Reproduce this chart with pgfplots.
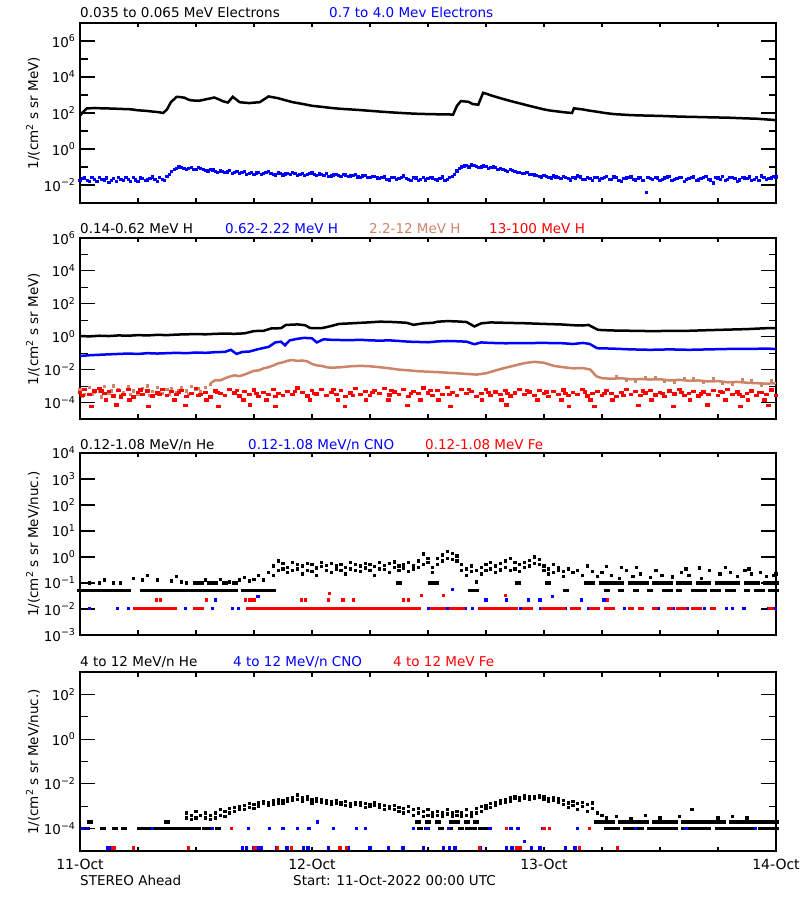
\documentclass[border=0pt]{standalone}
\usepackage{fontspec}
\setmainfont{DejaVu Sans}
\usepackage{pgfplots}
\pgfplotsset{compat=1.18}
\definecolor{hbrown}{RGB}{205,133,105}
\newcommand\tf{\fontsize{13.5}{16}\selectfont}
\newcommand\sx[1]{10\textsuperscript{#1}}
\pgfplotsset{
  mypanel/.style={scale only axis, width=696pt, xmin=0, xmax=72,
    axis line style={line width=1.3pt},
    xtick={0,6,...,72}, xticklabels={},
    tick pos=both, tick align=inside,
    major tick length=15pt, minor tick length=7.5pt,
    xtick style={/pgfplots/major tick length=4.5pt},
    every tick/.append style={black, line width=1.1pt},
    yticklabel style={font=\tf, xshift=-1pt},
    xticklabel style={font=\fontsize{14}{16}\selectfont, yshift=-5pt},
  },
  mydots/.style={only marks, mark=square*, mark size=1.15pt, mark options={line width=0pt}},
  mywide/.style={only marks, mark=square*, mark size=1.15pt, mark options={line width=0pt, xscale=1.6}},
  mydsh/.style={only marks, mark=square*, mark size=1.15pt, mark options={line width=0pt, xscale=2.2}},
  myln/.style={line width=2.5pt, mark=none},
}
\begin{document}
\begin{tikzpicture}
\useasboundingbox (0,0) rectangle (800pt,900pt);
\fill[white] (0,0) rectangle (800pt,900pt);
% ---------------- Panel 1
\begin{axis}[ymode=log, mypanel, at={(80pt,697pt)}, anchor=south west, height=180pt, ymin=1e-3, ymax=1e7,
  ytick={1e-2,1,1e2,1e4,1e6}, yticklabels={\sx{−2},\sx{0},\sx{2},\sx{4},\sx{6}},
  minor ytick={1e-1,1e1,1e3,1e5}]
\addplot[myln, black] coordinates {(0,71) (0.3,112) (0.7,178) (1.5,190) (2.2,182) (3,178) (3.8,172) (4.5,166) (5.3,160) (6,141) (6.8,132) (7.5,120) (8.1,112) (8.6,100) (9.0,158) (9.4,398) (10,794) (10.4,760) (10.8,708) (11.2,560) (11.5,501) (12.3,479) (12.8,540) (13.2,603) (13.9,724) (14.4,560) (14.8,447) (15.3,380) (15.8,794) (16.1,600) (16.5,398) (17.5,355) (18.1,380) (18.6,398) (19.5,832) (20.5,661) (21.2,520) (22,398) (23,320) (24,251) (25,220) (26,190) (27,170) (28,158) (29,145) (30,132) (31,120) (32,110) (33,102) (34,95) (35,90) (36,87) (37.3,84) (38.6,82) (39.0,251) (39.4,457) (40.2,417) (40.6,316) (41.2,288) (41.7,1318) (42.1,1150) (42.5,955) (43.5,661) (44.2,520) (45,398) (45.8,310) (46.6,240) (47.3,195) (48,158) (48.7,135) (49.5,120) (50.2,108) (50.9,100) (51.1,182) (52,158) (52.7,135) (53.5,117) (54.3,100) (55.2,87) (56,82) (57,76) (58.5,72) (60,69) (62,63) (63.8,60) (65.5,57) (67,55) (68.5,51) (70,48) (71,44) (72,40)};
\addplot[mydots, blue] coordinates {(0,0.018) (0.5,0.024) (1,0.016) (1.5,0.021) (2,0.027) (2.5,0.019) (3,0.014) (3.5,0.022) (4,0.025) (4.5,0.017) (5,0.020) (5.5,0.026) (6,0.015) (6.5,0.023) (7,0.019) (7.5,0.028) (8,0.016) (8.5,0.021) (9,0.03) (9.5,0.055) (10,0.08) (10.5,0.09) (11,0.075) (11.5,0.095) (12,0.07) (12.5,0.085) (13,0.065) (13.5,0.075) (14,0.055) (14.5,0.06) (15,0.048) (15.5,0.062) (16,0.05) (16.5,0.042) (17,0.055) (17.5,0.045) (18,0.038) (18.5,0.05) (19,0.043) (19.5,0.058) (20,0.04) (20.5,0.047) (21,0.036) (21.5,0.045) (22,0.05) (22.5,0.035) (23,0.042) (23.5,0.038) (24,0.046) (24.5,0.033) (25,0.04) (25.5,0.044) (26,0.032) (26.5,0.038) (27,0.029) (27.5,0.036) (28,0.031) (28.5,0.04) (29,0.027) (29.5,0.034) (30,0.025) (30.5,0.03) (31,0.022) (31.5,0.028) (32,0.019) (32.5,0.026) (33,0.023) (33.5,0.031) (34,0.02) (34.5,0.025) (35,0.017) (35.5,0.027) (36,0.022) (36.5,0.024) (37,0.019) (37.5,0.028) (38,0.021) (38.5,0.03) (39,0.06) (39.5,0.1) (40,0.12) (40.5,0.13) (41,0.11) (41.5,0.1) (42,0.105) (42.5,0.09) (43,0.095) (43.5,0.08) (44,0.065) (44.5,0.07) (45,0.055) (45.5,0.05) (46,0.045) (46.5,0.04) (47,0.036) (47.5,0.03) (48,0.034) (48.5,0.027) (49,0.031) (49.5,0.025) (50,0.029) (50.5,0.022) (51,0.026) (51.5,0.032) (52,0.021) (52.5,0.025) (53,0.018) (53.5,0.027) (54,0.023) (54.5,0.03) (55,0.02) (55.5,0.026) (56,0.016) (56.5,0.024) (57,0.028) (57.5,0.019) (58,0.025) (58.6,0.0038) (59,0.022) (59.5,0.027) (60,0.018) (60.5,0.024) (61,0.03) (61.5,0.02) (62,0.025) (62.5,0.015) (63,0.023) (63.5,0.028) (64,0.019) (64.5,0.026) (65,0.021) (65.5,0.013) (66,0.024) (66.5,0.029) (67,0.02) (67.5,0.025) (68,0.016) (68.5,0.027) (69,0.022) (69.5,0.018) (70,0.026) (70.5,0.031) (71,0.02) (71.5,0.024) (72,0.028)
(0.25,0.022) (0.75,0.017) (1.25,0.025) (1.75,0.015) (2.25,0.021) (2.75,0.024) (3.25,0.018) (3.75,0.016) (4.25,0.02) (4.75,0.026) (5.25,0.015) (5.75,0.019) (6.25,0.024) (6.75,0.017) (7.25,0.022) (7.75,0.02) (8.25,0.025) (8.75,0.018) (9.25,0.04) (9.75,0.07) (10.25,0.1) (10.75,0.08) (11.25,0.085) (11.75,0.07) (12.25,0.09) (12.75,0.075) (13.25,0.06) (13.75,0.068) (14.25,0.05) (14.75,0.058) (15.25,0.053) (15.75,0.045) (16.25,0.055) (16.75,0.048) (17.25,0.04) (17.75,0.05) (18.25,0.046) (18.75,0.039) (19.25,0.048) (19.75,0.042) (20.25,0.036) (20.75,0.044) (21.25,0.041) (21.75,0.037) (22.25,0.043) (22.75,0.039) (23.25,0.033) (23.75,0.042) (24.25,0.037) (24.75,0.041) (25.25,0.035) (25.75,0.03) (26.25,0.036) (26.75,0.033) (27.25,0.039) (27.75,0.03) (28.25,0.034) (28.75,0.028) (29.25,0.032) (29.75,0.026) (30.25,0.029) (30.75,0.024) (31.25,0.027) (31.75,0.021) (32.25,0.025) (32.75,0.02) (33.25,0.027) (33.75,0.022) (34.25,0.018) (34.75,0.024) (35.25,0.021) (35.75,0.019) (36.25,0.026) (36.75,0.02) (37.25,0.023) (37.75,0.018) (38.25,0.025) (38.75,0.04) (39.25,0.08) (39.75,0.115) (40.25,0.1) (40.75,0.12) (41.25,0.095) (41.75,0.115) (42.25,0.085) (42.75,0.1) (43.25,0.075) (43.75,0.07) (44.25,0.058) (44.75,0.062) (45.25,0.05) (45.75,0.042) (46.25,0.048) (46.75,0.037) (47.25,0.033) (47.75,0.028) (48.25,0.03) (48.75,0.024) (49.25,0.028) (49.75,0.022) (50.25,0.026) (50.75,0.019) (51.25,0.024) (51.75,0.028) (52.25,0.02) (52.75,0.023) (53.25,0.026) (53.75,0.019) (54.25,0.025) (54.75,0.021) (55.25,0.028) (55.75,0.018) (56.25,0.022) (56.75,0.026) (57.25,0.021) (57.75,0.024) (58.25,0.017) (58.75,0.027) (59.25,0.02) (59.75,0.024) (60.25,0.021) (60.75,0.028) (61.25,0.017) (61.75,0.023) (62.25,0.027) (62.75,0.02) (63.25,0.025) (63.75,0.018) (64.25,0.022) (64.75,0.029) (65.25,0.019) (65.75,0.025) (66.25,0.021) (66.75,0.017) (67.25,0.026) (67.75,0.022) (68.25,0.019) (68.75,0.024) (69.25,0.028) (69.75,0.021) (70.25,0.017) (70.75,0.025) (71.25,0.022) (71.75,0.03)};
\end{axis}
% ---------------- Panel 2
\begin{axis}[ymode=log, mypanel, at={(80pt,481pt)}, anchor=south west, height=181pt, ymin=1e-5, ymax=1e6,
  ytick={1e-4,1e-2,1,1e2,1e4,1e6}, yticklabels={\sx{−4},\sx{−2},\sx{0},\sx{2},\sx{4},\sx{6}},
  minor ytick={1e-3,1e-1,1e1,1e3,1e5}]
\addplot[myln, black] coordinates {(0,1.1) (1,1.05) (2,1.15) (3,1.1) (4,1.2) (5,1.15) (6,1.25) (7,1.2) (8,1.3) (9,1.25) (10,1.35) (11,1.4) (12,1.45) (13,1.4) (14,1.5) (15,1.55) (16,1.5) (17,1.6) (18,2.2) (19,2.3) (19.8,3.2) (20.8,3.3) (21.3,5.2) (22.5,5.6) (23.3,5.0) (23.8,3.4) (25,3.3) (26,4.5) (26.8,6.0) (28,6.5) (29,7.0) (30,7.5) (31,8.2) (32,8.0) (33,7.5) (33.8,7.0) (34.5,5.3) (35.5,6.5) (36.5,7.0) (37,8.2) (38,8.9) (39,8.5) (40,7.8) (40.8,4.2) (41.5,6.5) (42.5,7.4) (44,7.0) (46,6.6) (48,6.0) (50,5.5) (51,5.0) (52,4.8) (52.6,5.2) (53.6,2.6) (55,2.4) (57,2.3) (59,2.2) (61,2.25) (63,2.3) (65,2.5) (67,2.7) (69,2.9) (71,3.3) (72,3.4)};
\addplot[myln, blue] coordinates {(0,0.068) (1,0.075) (2,0.08) (3,0.085) (4,0.09) (5,0.095) (6,0.09) (7,0.1) (8,0.095) (9,0.1) (10,0.105) (11,0.1) (12,0.11) (13,0.105) (14,0.115) (15,0.12) (15.6,0.16) (16.2,0.09) (16.8,0.12) (17.5,0.125) (18.5,0.18) (19.5,0.24) (20.2,0.45) (20.8,0.5) (21.2,0.3) (21.7,0.6) (22.5,0.75) (23.2,0.85) (24,0.8) (24.5,0.45) (25.2,0.7) (26,0.65) (27,0.63) (28,0.62) (29,0.65) (30,0.6) (31,0.58) (32,0.6) (33,0.55) (34,0.5) (35,0.48) (36,0.46) (37,0.52) (38,0.55) (39,0.53) (40,0.5) (40.8,0.35) (41.5,0.45) (42.5,0.42) (44,0.4) (46,0.41) (48,0.42) (50,0.4) (51,0.36) (52,0.42) (52.7,0.37) (53.5,0.2) (55,0.19) (57,0.17) (59,0.16) (61,0.17) (63,0.16) (65,0.17) (67,0.18) (69,0.18) (71,0.19) (72,0.18)};
\addplot[mydots, hbrown] coordinates {(0,6e-4) (0.5,3e-4) (1,8e-4) (1.5,4e-4) (2,5e-4) (2.5,9e-4) (3,3.5e-4) (3.5,1e-3) (4,6e-4) (4.5,4e-4) (5,9e-4) (5.5,5e-4) (6,3e-4) (6.5,7e-4) (7,1e-3) (7.5,4.5e-4) (8,8e-4) (8.5,3.5e-4) (9,6e-4) (9.5,7e-4) (10,4e-4) (10.5,8e-4) (11,5e-4) (11.5,9e-4) (12,6e-4) (12.5,4.5e-4) (13,8e-4) (13.5,1.2e-3) (0.25,2.5e-4) (1.25,3e-4) (2.25,2.2e-4) (3.25,5e-4) (4.25,2.8e-4) (5.25,3.2e-4) (6.25,5.5e-4) (7.25,2.6e-4) (8.25,4e-4) (9.25,3e-4) (10.25,5.5e-4) (11.25,3e-4) (12.25,7e-4) (55.5,3.6e-3) (56.5,2.2e-3) (57.5,2e-3) (58.5,3.1e-3) (59.5,3.3e-3) (60.5,1.9e-3) (61.5,1.7e-3) (62.5,3e-3) (63.5,2.8e-3) (64.5,1.6e-3) (65.5,2.7e-3) (66.5,1.5e-3) (67.5,1.3e-3) (68.5,2.4e-3) (69.5,2.2e-3) (70.5,1.1e-3) (71.5,2.1e-3)};
\addplot[myln, hbrown] coordinates {(13.5,1.5e-3) (14,2.3e-3) (14.5,2.2e-3) (15,3e-3) (15.5,3.8e-3) (16,4.5e-3) (16.5,4e-3) (17,5e-3) (17.5,6.5e-3) (18,8.5e-3) (18.5,9e-3) (19,1.2e-2) (19.5,1.4e-2) (20,1.8e-2) (20.5,2.4e-2) (21,2.8e-2) (21.5,3.5e-2) (22,3.8e-2) (22.5,3.4e-2) (23,3.6e-2) (23.5,3.2e-2) (24,2.2e-2) (24.5,1.8e-2) (25,1.7e-2) (25.5,1.4e-2) (26,1.3e-2) (27,1.4e-2) (28,1.6e-2) (29,1.7e-2) (30,1.6e-2) (31,1.4e-2) (32,1.2e-2) (33,1.0e-2) (34,9e-3) (35,8e-3) (36,7.5e-3) (37,7e-3) (38,6.5e-3) (39,6e-3) (40,5.5e-3) (41,5e-3) (42,6e-3) (43,9e-3) (44,1.3e-2) (45,1.8e-2) (46,2.5e-2) (47,3.0e-2) (48,2.6e-2) (49,1.7e-2) (50,1.4e-2) (51,1.2e-2) (52,1.25e-2) (52.8,1.0e-2) (53.4,4e-3) (54,3e-3) (55,2.8e-3) (56,3.0e-3) (57,2.6e-3) (58,2.7e-3) (59,2.5e-3) (60,2.6e-3) (61,2.2e-3) (62,2.4e-3) (63,2.1e-3) (64,2.2e-3) (65,1.9e-3) (66,2.0e-3) (67,1.7e-3) (68,1.8e-3) (69,1.6e-3) (70,1.5e-3) (71,1.4e-3) (72,1.5e-3)};
\addplot[mywide, red] coordinates {(0,4e-4) (0.5,6e-4) (1,3e-4) (1.5,5e-4) (2,7e-4) (2.5,3.5e-4) (3,4.5e-4) (3.5,2.5e-4) (4,5.5e-4) (4.5,3e-4) (5,6.5e-4) (5.5,2.2e-4) (6,4e-4) (6.5,3e-4) (7,5e-4) (7.5,2.5e-4) (8,3.8e-4) (8.5,6e-4) (9,2.8e-4) (9.5,4.5e-4) (10,3.2e-4) (10.5,5.5e-4) (11,2.4e-4) (11.5,3.6e-4) (12,7e-4) (12.5,3e-4) (13,4.2e-4) (13.5,2.2e-4) (14,5e-4) (14.5,3.4e-4) (15,2.6e-4) (15.5,6e-4) (16,3.8e-4) (16.5,2.5e-4) (17,4.6e-4) (17.5,3.2e-4) (18,5.8e-4) (18.5,2.3e-4) (19,4e-4) (19.5,3e-4) (20,6.5e-4) (20.5,3.5e-4) (21,2.6e-4) (21.5,4.8e-4) (22,3.2e-4) (22.5,7.5e-4) (23,4e-4) (23.5,2.5e-4) (24,5.2e-4) (24.5,3.3e-4) (25,6e-4) (25.5,2.8e-4) (26,4.2e-4) (26.5,3e-4) (27,5.5e-4) (27.5,2.4e-4) (28,3.8e-4) (28.5,6.8e-4) (29,3.2e-4) (29.5,4.5e-4) (30,2.6e-4) (30.5,5.5e-4) (31,3.5e-4) (31.5,7e-4) (32,2.9e-4) (32.5,4.4e-4) (33,3.1e-4) (33.5,6e-4) (34,2.4e-4) (34.5,4.8e-4) (35,3.4e-4) (35.5,7.5e-4) (36,3.8e-4) (36.5,2.7e-4) (37,5.6e-4) (37.5,3.2e-4) (38,8e-4) (38.5,4.2e-4) (39,2.6e-4) (39.5,6e-4) (40,3.6e-4) (40.5,4.8e-4) (41,2.4e-4) (41.5,3.4e-4) (42,6.2e-4) (42.5,2.8e-4) (43,4.4e-4) (43.5,3.2e-4) (44,5.4e-4) (44.5,2.5e-4) (45,3.8e-4) (45.5,6.5e-4) (46,3e-4) (46.5,4.4e-4) (47,2.6e-4) (47.5,5.2e-4) (48,3.4e-4) (48.5,2.3e-4) (49,4.6e-4) (49.5,3e-4) (50,5.8e-4) (50.5,2.7e-4) (51,4e-4) (51.5,3.2e-4) (52,6e-4) (52.5,2.5e-4) (53,3.6e-4) (53.5,4.8e-4) (54,2.8e-4) (54.5,5.5e-4) (55,3.4e-4) (55.5,2.4e-4) (56,4.2e-4) (56.5,6.5e-4) (57,3e-4) (57.5,4.6e-4) (58,2.6e-4) (58.5,3.8e-4) (59,5.4e-4) (59.5,2.9e-4) (60,4e-4) (60.5,2.3e-4) (61,5e-4) (61.5,3.3e-4) (62,6.2e-4) (62.5,2.7e-4) (63,3.7e-4) (63.5,4.9e-4) (64,2.5e-4) (64.5,4.3e-4) (65,3.1e-4) (65.5,5.6e-4) (66,2.6e-4) (66.5,3.9e-4) (67,6e-4) (67.5,3e-4) (68,4.4e-4) (68.5,2.3e-4) (69,3.5e-4) (69.5,5e-4) (70,2.8e-4) (70.5,4.1e-4) (71,3.2e-4) (71.5,5.8e-4) (72,2.7e-4)
(0.25,2.8e-4) (2.25,5e-4) (4.25,2.2e-4) (6.25,5.8e-4) (8.25,3e-4) (10.25,4.2e-4) (12.25,2.7e-4) (14.25,3.9e-4) (16.25,5.2e-4) (18.25,3.5e-4) (20.25,2.4e-4) (22.25,4.6e-4) (24.25,3.7e-4) (26.25,6.2e-4) (28.25,2.6e-4) (30.25,4.1e-4) (32.25,5.5e-4) (34.25,3.6e-4) (36.25,5.2e-4) (38.25,3e-4) (40.25,6e-4) (42.25,4.1e-4) (44.25,3.7e-4) (46.25,5.5e-4) (48.25,4.4e-4) (50.25,3.6e-4) (52.25,4.3e-4) (54.25,3.5e-4) (56.25,2.8e-4) (58.25,5e-4) (60.25,3.4e-4) (62.25,4.2e-4) (64.25,3.3e-4) (66.25,4.7e-4) (68.25,3.2e-4) (70.25,3.9e-4)
(1.2,6e-5) (3.8,7e-5) (7.1,5.5e-5) (10.9,6.5e-5) (14.3,6e-5) (17.6,7e-5) (20.2,5.5e-5) (27.4,6e-5) (33.9,6.5e-5) (38.3,6e-5) (44.1,7e-5) (50.6,6e-5) (53.2,5.5e-5) (57.8,6.5e-5) (61.4,6e-5) (64.9,7e-5) (68.3,6e-5) (71.2,6.5e-5)
(2.7,1.4e-4) (5.1,1.4e-4) (9.8,1.4e-4) (13.1,1.4e-4) (16.9,1.4e-4) (19.3,1.4e-4) (23.8,1.4e-4) (26.7,1.4e-4) (29.6,1.4e-4) (31.9,1.4e-4) (35.2,1.4e-4) (37.1,1.4e-4) (41.6,1.4e-4) (43.6,1.4e-4) (47.3,1.4e-4) (49.8,1.4e-4) (52.8,1.4e-4) (55.1,1.4e-4) (59.1,1.4e-4) (63.1,1.4e-4) (66.8,1.4e-4) (69.1,1.4e-4) (70.8,1.4e-4)};
\end{axis}
% ---------------- Panel 3
\begin{axis}[ymode=log, mypanel, at={(80pt,265pt)}, anchor=south west, height=182pt, ymin=1e-3, ymax=1e4,
  ytick={1e-3,1e-2,1e-1,1,1e1,1e2,1e3,1e4}, yminorticks=false,
  yticklabels={\sx{−3},\sx{−2},\sx{−1},\sx{0},\sx{1},\sx{2},\sx{3},\sx{4}}]
\addplot[mydsh, black] coordinates {(0,0.05) (0.5,0.05) (1,0.05) (1.5,0.05) (2,0.05) (2.5,0.05) (3,0.05) (3.5,0.05) (4,0.05) (4.5,0.05) (5,0.05) (6.5,0.05) (7,0.05) (7.5,0.05) (8,0.05) (8.5,0.05) (9,0.05) (9.5,0.05) (10,0.05) (10.5,0.05) (11,0.05) (11.5,0.05) (12,0.05) (12.5,0.05) (13,0.05) (13.5,0.05) (14,0.05) (14.5,0.05) (15,0.05) (15.5,0.05) (16,0.05) (17,0.05) (17.5,0.05) (18,0.05) (18.5,0.05) (19,0.05) (19.5,0.05) (20,0.05) (40.5,0.05) (41,0.05) (50.3,0.05)
(54.5,0.05) (56,0.05) (57.5,0.05) (59,0.05) (60.5,0.05) (61,0.05) (62,0.05) (63.5,0.05) (64,0.05) (64.5,0.05) (65.5,0.05) (66,0.05) (67,0.05) (67.5,0.05) (69,0.05) (70,0.05) (70.5,0.05) (71.5,0.05) (72,0.05)
(12,0.1) (12.5,0.1) (13.5,0.1) (14,0.1) (15,0.1) (16,0.1) (33,0.1) (36.3,0.1) (36.8,0.1) (45.3,0.1) (48.4,0.1)
(52.5,0.1) (53,0.1) (54,0.1) (54.5,0.1) (55,0.1) (55.5,0.1) (56,0.1) (57,0.1) (57.5,0.1) (58,0.1) (58.5,0.1) (59.5,0.1) (60,0.1) (60.5,0.1) (61,0.1) (62,0.1) (62.5,0.1) (63,0.1) (64,0.1) (64.5,0.1) (65,0.1) (66,0.1) (66.5,0.1) (67,0.1) (67.5,0.1) (68,0.1) (69,0.1) (69.5,0.1) (70,0.1) (71,0.1) (71.5,0.1) (72,0.1)};
\addplot[mydots, black] coordinates {(1,0.1) (2,0.1) (2.5,0.13) (3.5,0.1) (4.2,0.1) (5.5,0.15) (6.5,0.13) (7,0.2) (8,0.13) (9.5,0.12) (10,0.18) (10.5,0.11) (11,0.1) (13,0.13) (14.5,0.14) (15.5,0.11) (16.5,0.13) (17,0.16) (17.5,0.12) (18,0.14) (18.5,0.2) (19,0.13) (19.5,0.25)
(20,0.45) (20,0.2) (20.5,0.7) (20.5,0.3) (21,0.55) (21,0.35) (21.5,0.4) (21.5,0.25) (22,0.6) (22,0.3) (22.5,0.35) (22.5,0.5) (23,0.45) (23,0.22) (23.5,0.3) (23.5,0.55) (24,0.5) (24,0.28) (24.5,0.38) (24.5,0.2) (25,0.42) (25,0.6) (25.5,0.3) (25.5,0.48) (26,0.55) (26,0.25) (26.5,0.35) (26.5,0.45) (27,0.5) (27,0.3) (27.5,0.4) (27.5,0.22) (28,0.6) (28,0.35) (28.5,0.3) (28.5,0.5) (29,0.45) (29,0.27) (29.5,0.38) (29.5,0.55) (30,0.5) (30,0.3) (30.5,0.42) (30.5,0.2) (31,0.6) (31,0.35) (31.5,0.33) (31.5,0.48) (32,0.55) (32,0.25) (32.5,0.4) (32.5,0.65) (33,0.45) (33,0.3) (33.5,0.38) (33.5,0.52) (34,0.6) (34,0.28) (34.5,0.45) (34.5,0.35) (35,0.7) (35,0.4) (35.5,1.3) (35.5,0.5) (36,0.6) (36,0.9) (36.5,0.4) (36.5,0.25) (37,0.9) (37,0.5) (37.5,1.2) (37.5,0.7) (38,1.6) (38,0.9) (38.5,1.4) (38.5,0.8) (39,0.7) (39,1.1) (39.5,0.5) (39.5,0.3) (40,0.35) (40,0.2) (40.5,0.45) (40.5,0.28) (41,0.3) (41,0.11) (41.5,0.4) (41.5,0.22) (42,0.5) (42,0.3) (42.5,0.6) (42.5,0.35) (43,0.45) (43,0.25) (43.5,0.55) (43.5,0.32) (44,0.4) (44,0.7) (44.5,0.9) (44.5,0.3) (45,0.35) (45,0.6) (45.5,0.5) (45.5,0.28) (46,0.6) (46,0.4) (46.5,0.75) (46.5,0.45) (47,1.0) (47,0.55) (47.5,0.8) (47.5,0.5) (48,0.45) (48,0.3) (48.5,0.35) (48.5,0.22) (49,0.5) (49,0.25) (49.5,0.3) (49.5,0.4) (50,0.28) (50,0.18)
(50.5,0.35) (51,0.25) (51.5,0.3) (52,0.2) (52.5,0.45) (53,0.28) (53.5,0.18) (54,0.25) (54.5,0.42) (55,0.2) (55.8,0.15) (56,0.4) (56.5,0.3) (57.2,0.18) (57.6,0.4) (58,0.22) (59,0.16) (59.6,0.3) (60.2,0.2) (61.3,0.17) (62.2,0.25) (62.7,0.35) (63,0.2) (64.1,0.38) (64.3,0.15) (65.1,0.3) (66.2,0.22) (66.8,0.4) (67.3,0.25) (68,0.18) (68.8,0.3) (69.2,0.35) (69.5,0.22) (70.4,0.25) (71,0.18) (71.8,0.2) (72,0.22)};
\addplot[mydots, blue] coordinates {(1,0.0107) (3.9,0.0107) (5,0.0107) (7.8,0.0107) (9.7,0.0107) (10.9,0.0107) (12.4,0.0107) (13.7,0.0107) (15.8,0.0107) (16.4,0.0107) (18.9,0.0107) (20.1,0.0107) (22.7,0.0107) (23.5,0.0107) (25.8,0.0107) (27.3,0.0107) (28.9,0.0107) (30.3,0.0107) (32.0,0.0107) (33.4,0.0107) (34.8,0.0107) (36.1,0.0107) (37.4,0.0107) (38.0,0.0107) (39.9,0.0107) (40.6,0.0107) (41.8,0.0107) (43.2,0.0107) (44.9,0.0107) (45.6,0.0107) (46.3,0.0107) (47.7,0.0107) (48.9,0.0107) (50.2,0.0107) (51.3,0.0107) (52.6,0.0107) (55.1,0.0107) (56.3,0.0107) (57.0,0.0107) (59.8,0.0107) (61.4,0.0107) (62.8,0.0107) (63.9,0.0107) (64.6,0.0107) (66.9,0.0107) (67.5,0.0107) (68.7,0.0107) (71.2,0.0107) (71.9,0.0107)
(14,0.022) (18.4,0.03) (38.5,0.055) (42,0.022) (44.1,0.022) (46.4,0.022) (47.6,0.022) (48.9,0.03) (51.9,0.022) (54.2,0.022)};
\addplot[mydsh, red] coordinates {(5.75,0.0107) (6.25,0.0107) (6.75,0.0107) (7.25,0.0107) (7.75,0.0107) (8.25,0.0107) (8.75,0.0107) (9.25,0.0107) (9.75,0.0107) (12,0.0107) (12.5,0.0107) (17.5,0.0107) (18,0.0107) (18.5,0.0107) (19,0.0107) (19.5,0.0107) (20,0.0107) (20.5,0.0107) (21,0.0107) (21.5,0.0107) (22,0.0107) (22.5,0.0107) (23,0.0107) (23.5,0.0107) (24,0.0107) (24.5,0.0107) (25,0.0107) (25.5,0.0107) (26,0.0107) (26.5,0.0107) (27,0.0107) (27.5,0.0107) (28,0.0107) (28.5,0.0107) (29,0.0107) (29.5,0.0107) (30,0.0107) (30.5,0.0107) (31,0.0107) (31.5,0.0107) (32,0.0107) (32.5,0.0107) (33,0.0107) (33.5,0.0107) (34,0.0107) (34.5,0.0107) (35,0.0107) (36.5,0.0107) (37,0.0107) (37.5,0.0107) (38.5,0.0107) (39,0.0107) (39.5,0.0107) (41.5,0.0107) (42,0.0107) (42.5,0.0107) (43,0.0107) (43.5,0.0107) (44,0.0107) (44.5,0.0107) (45,0.0107) (46,0.0107) (46.5,0.0107) (48,0.0107) (48.5,0.0107) (49,0.0107) (49.5,0.0107) (50,0.0107) (51,0.0107) (51.5,0.0107) (53,0.0107) (53.5,0.0107) (54.5,0.0107) (55,0.0107) (57,0.0107) (58,0.0107) (59.5,0.0107) (61,0.0107) (62,0.0107) (62.5,0.0107) (63.5,0.0107) (64,0.0107) (65.5,0.0107) (71.5,0.0107)};
\addplot[mydots, red] coordinates {(7.9,0.022) (8.3,0.022) (13.1,0.022) (17.1,0.022) (17.6,0.022) (18,0.022) (22.9,0.022) (23.3,0.022) (25.7,0.022) (25.8,0.04) (27.2,0.022) (28.3,0.022) (33.5,0.022) (34,0.022) (35.3,0.034) (37.6,0.034) (44,0.034) (54.6,0.022)};
\end{axis}
% ---------------- Panel 4
\begin{axis}[ymode=log, mypanel, at={(80pt,49pt)}, anchor=south west, height=179pt, ymin=1e-5, ymax=1e3,
  ytick={1e-4,1e-2,1,1e2}, yticklabels={\sx{−4},\sx{−2},\sx{0},\sx{2}},
  minor ytick={1e-3,1e-1,1e1},
  xticklabels={11-Oct,,,,12-Oct,,,,13-Oct,,,,14-Oct}]
\addplot[mydsh, black] coordinates {(0.7,1e-4) (2.4,1e-4) (3.6,1e-4) (4.6,1e-4) (6.2,1e-4) (6.7,1e-4) (7.2,1e-4) (7.7,1e-4) (8.2,1e-4) (8.7,1e-4) (9.2,1e-4) (9.7,1e-4) (10.2,1e-4) (10.7,1e-4) (11.2,1e-4) (11.7,1e-4) (12.2,1e-4) (12.9,1e-4) (13.5,1e-4) (14.3,1e-4) (35.2,1e-4) (35.9,1e-4) (37.3,1e-4) (38.3,1e-4) (39.4,1e-4) (40.1,1e-4) (40.8,1e-4) (41.5,1e-4) (42.0,1e-4)
(54.5,1e-4) (55,1e-4) (55.5,1e-4) (56.5,1e-4) (57,1e-4) (57.5,1e-4) (58,1e-4) (59,1e-4) (59.5,1e-4) (60,1e-4) (60.5,1e-4) (61,1e-4) (61.5,1e-4) (62.5,1e-4) (63,1e-4) (63.5,1e-4) (64,1e-4) (64.5,1e-4) (65,1e-4) (66,1e-4) (66.5,1e-4) (67,1e-4) (67.5,1e-4) (68,1e-4) (68.5,1e-4) (69,1e-4) (69.5,1e-4) (70.5,1e-4) (71,1e-4) (71.5,1e-4) (72,1e-4)
(1.0,2e-4) (9.0,2e-4) (35,2e-4) (36,2e-4) (37,2e-4) (38.5,2e-4) (39,2e-4) (40,2e-4) (41,2e-4)
(53.5,2e-4) (54,2e-4) (54.5,2e-4) (55,2e-4) (56,2e-4) (56.5,2e-4) (57,2e-4) (57.5,2e-4) (58,2e-4) (58.5,2e-4) (59.5,2e-4) (60,2e-4) (60.5,2e-4) (61,2e-4) (61.5,2e-4) (62.5,2e-4) (63,2e-4) (63.5,2e-4) (64,2e-4) (64.5,2e-4) (65,2e-4) (65.5,2e-4) (66,2e-4) (66.5,2e-4) (67.5,2e-4) (68,2e-4) (68.5,2e-4) (69,2e-4) (69.5,2e-4) (70,2e-4) (70.5,2e-4) (71,2e-4) (71.5,2e-4) (72,2e-4)};
\addplot[mydots, black] coordinates {(11,5e-4) (11,3e-4) (11.5,4e-4) (11.5,2.5e-4) (12,6e-4) (12,3e-4) (12.5,4e-4) (13,3e-4) (13,5e-4) (13.5,4e-4) (13.5,2.5e-4) (14,5e-4) (14,3e-4) (14.5,7e-4) (14.5,4e-4) (15,6e-4) (15,3.5e-4) (15.5,8e-4) (15.5,5e-4) (16,9e-4) (16,6e-4) (16.5,7e-4) (16.5,1.0e-3) (17,1.1e-3) (17,7e-4) (17.5,9e-4) (17.5,1.3e-3) (18,1.2e-3) (18,8e-4) (18.5,1.4e-3) (18.5,1.0e-3) (19,1.3e-3) (19,1.6e-3) (19.5,1.1e-3) (19.5,1.5e-3) (20,1.7e-3) (20,1.2e-3) (20.5,1.4e-3) (20.5,2.0e-3) (21,1.8e-3) (21,1.3e-3) (21.5,2.2e-3) (21.5,1.6e-3) (22,2.5e-3) (22,1.8e-3) (22.5,2.0e-3) (22.5,3.2e-3) (23,2.4e-3) (23,1.7e-3) (23.5,2.1e-3) (23.5,2.8e-3) (24,1.9e-3) (24,1.4e-3) (24.5,2.2e-3) (24.5,1.6e-3) (25,1.5e-3) (25,1.9e-3) (25.5,1.3e-3) (25.5,1.7e-3) (26,1.6e-3) (26,1.2e-3) (26.5,1.4e-3) (26.5,1.8e-3) (27,1.2e-3) (27,1.5e-3) (27.5,1.6e-3) (27.5,1.1e-3) (28,1.3e-3) (28,1.0e-3) (28.5,1.5e-3) (28.5,1.2e-3) (29,1.1e-3) (29,1.4e-3) (29.5,1.3e-3) (29.5,9e-4) (30,1.2e-3) (30,1.0e-3) (30.5,1.4e-3) (30.5,1.1e-3) (31,9e-4) (31,1.2e-3) (31.5,1.1e-3) (31.5,7e-4) (32,1.0e-3) (32,8e-4) (32.5,7e-4) (32.5,1.1e-3) (33,6e-4) (33,9e-4) (33.5,8e-4) (33.5,5e-4) (34,1.0e-3) (34,6e-4) (34.5,7e-4) (34.5,4e-4) (35,5e-4) (35,8e-4) (35.5,6e-4) (35.5,3.5e-4) (36,4e-4) (36,7e-4) (36.5,5e-4) (36.5,3.5e-4) (37,6e-4) (37,4e-4) (37.5,3.5e-4) (37.5,5e-4) (38,4.5e-4) (38,7e-4) (38.5,3.5e-4) (38.5,5e-4) (39,6e-4) (39,4e-4) (39.5,3.5e-4) (39.5,5e-4) (40,7e-4) (40,4e-4) (40.5,5e-4) (40.5,3.5e-4) (41,8e-4) (41,5e-4) (41.5,6e-4) (41.5,1.0e-3) (42,1.1e-3) (42,8e-4) (42.5,1.3e-3) (42.5,9e-4) (43,1.5e-3) (43,1.1e-3) (43.5,1.8e-3) (43.5,1.3e-3) (44,2.0e-3) (44,1.5e-3) (44.5,2.4e-3) (44.5,1.7e-3) (45,2.2e-3) (45,2.8e-3) (45.5,2.5e-3) (45.5,1.9e-3) (46,3.0e-3) (46,2.2e-3) (46.5,2.6e-3) (46.5,2.0e-3) (47,2.8e-3) (47,2.3e-3) (47.5,2.4e-3) (47.5,3.0e-3) (48,2.1e-3) (48,2.6e-3) (48.5,2.3e-3) (48.5,1.7e-3) (49,1.9e-3) (49,2.5e-3) (49.5,1.5e-3) (49.5,2.1e-3) (50,1.2e-3) (50,1.8e-3) (50.5,1.4e-3) (50.5,9e-4) (51,1.1e-3) (51,1.6e-3) (51.5,1.3e-3) (51.5,7e-4) (52,1.5e-3) (52,1.0e-3) (52.5,1.2e-3) (52.5,6e-4) (53,1.4e-3) (53,8e-4) (53.5,5e-4) (54,4e-4)
(54.5,3e-4) (55.5,3.5e-4) (57,2.8e-4) (58.5,4e-4) (60,3e-4) (62,3.5e-4) (63.3,7e-4) (66,3e-4) (67.5,3.5e-4) (69,3e-4)};
\addplot[mydots, blue] coordinates {(0.3,1e-4) (0.8,1e-4) (7.5,1e-4) (13.7,1e-4) (17.4,1e-4) (19.6,1e-4) (21,1e-4) (22.5,1e-4) (23.7,1e-4) (26.2,1e-4) (28.6,1e-4) (29.5,1e-4) (34.5,1e-4) (35.9,1e-4) (38.1,1e-4) (42.4,1e-4) (44.6,1e-4) (45.3,1e-4) (47.9,1e-4) (51.5,1e-4) (57.5,1e-4) (62.7,1e-4) (69.9,1e-4) (24.6,2e-4)
(2.9,1.35e-5) (3.1,1.35e-5) (16.8,1.35e-5) (17.2,1.35e-5) (18,1.35e-5) (18.4,1.35e-5) (18.8,1.35e-5) (20.3,1.35e-5) (21.4,1.35e-5) (21.9,1.35e-5) (23.1,1.35e-5) (23.6,1.35e-5) (25.7,1.35e-5) (27.8,1.35e-5) (30,1.35e-5) (31.9,1.35e-5) (33.4,1.35e-5) (35.5,1.35e-5) (37.6,1.35e-5) (38.2,1.35e-5) (38.8,1.35e-5) (41.4,1.35e-5) (44.1,1.35e-5) (44.7,1.35e-5) (46,2.6e-5) (46.7,1.35e-5) (47.6,1.35e-5) (50.2,1.35e-5) (51.2,1.35e-5)};
\addplot[mydots, red] coordinates {(3.4,1.35e-5) (3.6,1.35e-5) (5.5,1.35e-5) (11.2,1.35e-5) (18.1,1.35e-5) (20.4,1.35e-5) (21.9,1.35e-5) (26.9,1.35e-5) (27.6,1.35e-5) (41.3,1.35e-5) (45.2,1.35e-5) (45.6,1.35e-5) (51.7,1.35e-5) (55.6,1.35e-5)
(15.7,1e-4) (44.1,1e-4) (48,1e-4) (48.6,1e-4) (52.7,1e-4)};
\end{axis}
% ---------------- Texts
\begin{scope}[every node/.style={inner sep=0pt, font=\tf}]
\node[anchor=base west] at (80pt,882pt) {0.035 to 0.065 MeV Electrons};
\node[anchor=base west, blue] at (329pt,882pt) {0.7 to 4.0 Mev Electrons};
\node[anchor=base west] at (80pt,666pt) {0.14-0.62 MeV H};
\node[anchor=base west, blue] at (225pt,666pt) {0.62-2.22 MeV H};
\node[anchor=base west, hbrown] at (369pt,666pt) {2.2-12 MeV H};
\node[anchor=base west, red] at (489pt,666pt) {13-100 MeV H};
\node[anchor=base west] at (80pt,450pt) {0.12-1.08 MeV/n He};
\node[anchor=base west, blue] at (248pt,450pt) {0.12-1.08 MeV/n CNO};
\node[anchor=base west, red] at (425pt,450pt) {0.12-1.08 MeV Fe};
\node[anchor=base west] at (80pt,233pt) {4 to 12 MeV/n He};
\node[anchor=base west, blue] at (233pt,233pt) {4 to 12 MeV/n CNO};
\node[anchor=base west, red] at (393pt,233pt) {4 to 12 MeV Fe};
\node[rotate=90] at (33pt,787pt) {1/(cm\textsuperscript{2} s sr MeV)};
\node[rotate=90] at (33pt,571pt) {1/(cm\textsuperscript{2} s sr MeV)};
\node[rotate=90] at (33pt,356pt) {1/(cm\textsuperscript{2} s sr MeV/nuc.)};
\node[rotate=90] at (33pt,138pt) {1/(cm\textsuperscript{2} s sr MeV/nuc.)};
\node[anchor=base west] at (80pt,14pt) {STEREO Ahead};
\node[anchor=base west] at (293pt,14pt) {Start: 11-Oct-2022 00:00 UTC};
\end{scope}
\end{tikzpicture}
\end{document}
